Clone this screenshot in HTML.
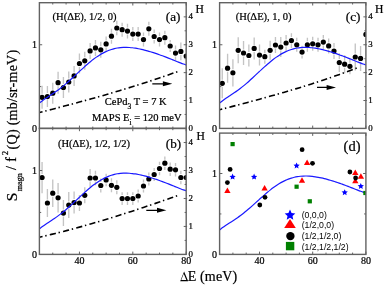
<!DOCTYPE html><html><head><meta charset="utf-8"><style>html,body{margin:0;padding:0;background:#fff;}svg{display:block;will-change:transform;} text{stroke:#000;stroke-width:0.22px;}</style></head><body><svg width="386" height="287" viewBox="0 0 386 287">
<rect width="386" height="287" fill="#fff"/>
<clipPath id="cA"><rect x="39.4" y="2.7" width="146.8" height="125.7"/></clipPath>
<g clip-path="url(#cA)">
<path d="M42.07,85.8V93.8M42.07,100.8V108.8" stroke="#c4c4c4" stroke-width="1.35"/>
<path d="M47.41,86.1V93.1M47.41,100.1V107.1" stroke="#c4c4c4" stroke-width="1.35"/>
<path d="M52.75,82.7V89.7M52.75,96.7V103.7" stroke="#c4c4c4" stroke-width="1.35"/>
<path d="M58.08,71.7V79.2M58.08,86.2V93.7" stroke="#c4c4c4" stroke-width="1.35"/>
<path d="M63.42,77.1V84.1M63.42,91.1V98.1" stroke="#c4c4c4" stroke-width="1.35"/>
<path d="M68.76,71.5V78.5M68.76,85.5V92.5" stroke="#c4c4c4" stroke-width="1.35"/>
<path d="M74.1,65.9V72.4M74.1,79.4V85.9" stroke="#c4c4c4" stroke-width="1.35"/>
<path d="M79.44,53.5V60M79.44,67V73.5" stroke="#c4c4c4" stroke-width="1.35"/>
<path d="M84.77,51.8V57.3M84.77,64.3V69.8" stroke="#c4c4c4" stroke-width="1.35"/>
<path d="M90.11,42.9V47.4M90.11,54.4V58.9" stroke="#c4c4c4" stroke-width="1.35"/>
<path d="M95.45,39.9V44.4M95.45,51.4V55.9" stroke="#c4c4c4" stroke-width="1.35"/>
<path d="M100.79,41.8V46.3M100.79,53.3V57.8" stroke="#c4c4c4" stroke-width="1.35"/>
<path d="M106.13,36.4V40.4M106.13,47.4V51.4" stroke="#c4c4c4" stroke-width="1.35"/>
<path d="M111.47,28.7V32.7M111.47,39.7V43.7" stroke="#c4c4c4" stroke-width="1.35"/>
<path d="M116.8,20.7V24.5M116.8,31.5V35.3" stroke="#c4c4c4" stroke-width="1.35"/>
<path d="M122.14,22.7V26.2M122.14,33.2V36.7" stroke="#c4c4c4" stroke-width="1.35"/>
<path d="M127.48,23.8V27.6M127.48,34.6V38.4" stroke="#c4c4c4" stroke-width="1.35"/>
<path d="M132.82,27.1V30.6M132.82,37.6V41.1" stroke="#c4c4c4" stroke-width="1.35"/>
<path d="M138.16,27.1V30.6M138.16,37.6V41.1" stroke="#c4c4c4" stroke-width="1.35"/>
<path d="M143.49,32.6V36.1M143.49,43.1V46.6" stroke="#c4c4c4" stroke-width="1.35"/>
<path d="M148.83,21.8V25.3M148.83,32.3V35.8" stroke="#c4c4c4" stroke-width="1.35"/>
<path d="M154.17,29.5V33M154.17,40V43.5" stroke="#c4c4c4" stroke-width="1.35"/>
<path d="M159.51,32.6V36.1M159.51,43.1V46.6" stroke="#c4c4c4" stroke-width="1.35"/>
<path d="M164.85,30.7V34.2M164.85,41.2V44.7" stroke="#c4c4c4" stroke-width="1.35"/>
<path d="M170.19,40V42.5M170.19,49.5V52" stroke="#c4c4c4" stroke-width="1.35"/>
<path d="M175.52,45.5V49.6M175.52,56.6V60.7" stroke="#c4c4c4" stroke-width="1.35"/>
<path d="M180.86,42.6V47.9M180.86,54.9V60.2" stroke="#c4c4c4" stroke-width="1.35"/>
<path d="M186.2,48V52.5M186.2,59.5V64" stroke="#c4c4c4" stroke-width="1.35"/>
<circle cx="42.07" cy="97.3" r="2.6" fill="#000"/>
<circle cx="47.41" cy="96.6" r="2.6" fill="#000"/>
<circle cx="52.75" cy="93.2" r="2.6" fill="#000"/>
<circle cx="58.08" cy="82.7" r="2.6" fill="#000"/>
<circle cx="63.42" cy="87.6" r="2.6" fill="#000"/>
<circle cx="68.76" cy="82" r="2.6" fill="#000"/>
<circle cx="74.1" cy="75.9" r="2.6" fill="#000"/>
<circle cx="79.44" cy="63.5" r="2.6" fill="#000"/>
<circle cx="84.77" cy="60.8" r="2.6" fill="#000"/>
<circle cx="90.11" cy="50.9" r="2.6" fill="#000"/>
<circle cx="95.45" cy="47.9" r="2.6" fill="#000"/>
<circle cx="100.79" cy="49.8" r="2.6" fill="#000"/>
<circle cx="106.13" cy="43.9" r="2.6" fill="#000"/>
<circle cx="111.47" cy="36.2" r="2.6" fill="#000"/>
<circle cx="116.8" cy="28" r="2.6" fill="#000"/>
<circle cx="122.14" cy="29.7" r="2.6" fill="#000"/>
<circle cx="127.48" cy="31.1" r="2.6" fill="#000"/>
<circle cx="132.82" cy="34.1" r="2.6" fill="#000"/>
<circle cx="138.16" cy="34.1" r="2.6" fill="#000"/>
<circle cx="143.49" cy="39.6" r="2.6" fill="#000"/>
<circle cx="148.83" cy="28.8" r="2.6" fill="#000"/>
<circle cx="154.17" cy="36.5" r="2.6" fill="#000"/>
<circle cx="159.51" cy="39.6" r="2.6" fill="#000"/>
<circle cx="164.85" cy="37.7" r="2.6" fill="#000"/>
<circle cx="170.19" cy="46" r="2.6" fill="#000"/>
<circle cx="175.52" cy="53.1" r="2.6" fill="#000"/>
<circle cx="180.86" cy="51.4" r="2.6" fill="#000"/>
<circle cx="186.2" cy="56" r="2.6" fill="#000"/>
<path d="M39.4,103.08 C39.9,102.68 41.4,101.41 42.4,100.66 C43.4,99.9 44.4,99.22 45.4,98.54 C46.4,97.85 47.4,97.21 48.4,96.56 C49.4,95.91 50.4,95.27 51.4,94.61 C52.4,93.96 53.4,93.3 54.4,92.61 C55.4,91.93 56.4,91.23 57.4,90.51 C58.4,89.78 59.4,89.03 60.4,88.26 C61.4,87.49 62.4,86.69 63.4,85.87 C64.4,85.05 65.4,84.21 66.4,83.35 C67.4,82.49 68.4,81.6 69.4,80.7 C70.4,79.81 71.4,78.89 72.4,77.97 C73.4,77.05 74.4,76.11 75.4,75.17 C76.4,74.24 77.4,73.3 78.4,72.36 C79.4,71.43 80.4,70.49 81.4,69.57 C82.4,68.65 83.4,67.73 84.4,66.83 C85.4,65.94 86.4,65.05 87.4,64.19 C88.4,63.33 89.4,62.48 90.4,61.67 C91.4,60.86 92.4,60.07 93.4,59.31 C94.4,58.55 95.4,57.82 96.4,57.13 C97.4,56.44 98.4,55.78 99.4,55.15 C100.4,54.53 101.4,53.94 102.4,53.39 C103.4,52.84 104.4,52.33 105.4,51.86 C106.4,51.38 107.4,50.95 108.4,50.55 C109.4,50.16 110.4,49.8 111.4,49.48 C112.4,49.16 113.4,48.88 114.4,48.64 C115.4,48.4 116.4,48.19 117.4,48.02 C118.4,47.84 119.4,47.71 120.4,47.6 C121.4,47.5 122.4,47.43 123.4,47.39 C124.4,47.35 125.4,47.34 126.4,47.36 C127.4,47.37 128.4,47.42 129.4,47.49 C130.4,47.56 131.4,47.65 132.4,47.77 C133.4,47.89 134.4,48.03 135.4,48.18 C136.4,48.34 137.4,48.52 138.4,48.72 C139.4,48.91 140.4,49.12 141.4,49.35 C142.4,49.58 143.4,49.82 144.4,50.07 C145.4,50.33 146.4,50.6 147.4,50.87 C148.4,51.15 149.4,51.44 150.4,51.74 C151.4,52.05 152.4,52.36 153.4,52.68 C154.4,53 155.4,53.33 156.4,53.67 C157.4,54 158.4,54.35 159.4,54.71 C160.4,55.06 161.4,55.43 162.4,55.8 C163.4,56.17 164.4,56.55 165.4,56.93 C166.4,57.32 167.4,57.71 168.4,58.1 C169.4,58.5 170.4,58.9 171.4,59.31 C172.4,59.71 173.4,60.12 174.4,60.52 C175.4,60.93 176.4,61.34 177.4,61.74 C178.4,62.13 179.4,62.53 180.4,62.91 C181.4,63.29 182.43,63.68 183.4,64.01 C184.37,64.35 185.73,64.77 186.2,64.92" fill="none" stroke="#1a1aff" stroke-width="1.2"/>
<path d="M39.4,112.48 L43.4,111.47 L47.4,110.46 L51.4,109.45 L55.4,108.42 L59.4,107.39 L63.4,106.35 L67.4,105.3 L71.4,104.24 L75.4,103.17 L79.4,102.1 L83.4,101.01 L87.4,99.91 L91.4,98.8 L95.4,97.68 L99.4,96.55 L103.4,95.41 L107.4,94.25 L111.4,93.08 L115.4,91.9 L119.4,90.71 L123.4,89.5 L127.4,88.27 L131.4,87.04 L135.4,85.79 L139.4,84.52 L143.4,83.24 L147.4,81.94 L151.4,80.62 L155.4,79.29 L159.4,77.94 L163.4,76.58 L167.4,75.19 L171.4,73.79 L175.4,72.37 L178,71.44" fill="none" stroke="#000" stroke-width="1.6" stroke-dasharray="6.2 2.8 1.4 3.25" stroke-dashoffset="2.97"/>
<line x1="152.3" y1="83.8" x2="163.4" y2="83.8" stroke="#000" stroke-width="1.35"/>
<path d="M172.3,83.8 L162.9,81.3 L162.9,86.3 Z" fill="#000"/>
</g>
<clipPath id="cB"><rect x="39.4" y="128.4" width="146.8" height="126"/></clipPath>
<g clip-path="url(#cB)">
<path d="M42.07,162V174.1M42.07,181.1V193.2" stroke="#c4c4c4" stroke-width="1.35"/>
<path d="M47.41,189V199.5M47.41,206.5V217" stroke="#c4c4c4" stroke-width="1.35"/>
<path d="M52.75,179.4V189.7M52.75,196.7V207" stroke="#c4c4c4" stroke-width="1.35"/>
<path d="M58.08,183V194.3M58.08,201.3V212.6" stroke="#c4c4c4" stroke-width="1.35"/>
<path d="M63.42,200.1V209.6M63.42,216.6V226.1" stroke="#c4c4c4" stroke-width="1.35"/>
<path d="M68.76,192.1V201.6M68.76,208.6V218.1" stroke="#c4c4c4" stroke-width="1.35"/>
<path d="M74.1,191.6V199.1M74.1,206.1V213.6" stroke="#c4c4c4" stroke-width="1.35"/>
<path d="M79.44,195V199.5M79.44,206.5V211" stroke="#c4c4c4" stroke-width="1.35"/>
<path d="M84.77,187.3V191.8M84.77,198.8V203.3" stroke="#c4c4c4" stroke-width="1.35"/>
<path d="M90.11,169V174.5M90.11,181.5V187" stroke="#c4c4c4" stroke-width="1.35"/>
<path d="M95.45,170.7V174.5M95.45,181.5V185.3" stroke="#c4c4c4" stroke-width="1.35"/>
<path d="M100.79,178.5V182M100.79,189V192.5" stroke="#c4c4c4" stroke-width="1.35"/>
<path d="M106.13,173.7V176.5M106.13,183.5V186.3" stroke="#c4c4c4" stroke-width="1.35"/>
<path d="M111.47,178.3V181.8M111.47,188.8V192.3" stroke="#c4c4c4" stroke-width="1.35"/>
<path d="M116.8,180.3V183.8M116.8,190.8V194.3" stroke="#c4c4c4" stroke-width="1.35"/>
<path d="M122.14,192.3V195.1M122.14,202.1V204.9" stroke="#c4c4c4" stroke-width="1.35"/>
<path d="M127.48,192.3V195.1M127.48,202.1V204.9" stroke="#c4c4c4" stroke-width="1.35"/>
<path d="M132.82,192.3V195.1M132.82,202.1V204.9" stroke="#c4c4c4" stroke-width="1.35"/>
<path d="M138.16,189.5V192.5M138.16,199.5V202.5" stroke="#c4c4c4" stroke-width="1.35"/>
<path d="M143.49,179.5V182.5M143.49,189.5V192.5" stroke="#c4c4c4" stroke-width="1.35"/>
<path d="M148.83,172.5V175.5M148.83,182.5V185.5" stroke="#c4c4c4" stroke-width="1.35"/>
<path d="M154.17,168V171M154.17,178V181" stroke="#c4c4c4" stroke-width="1.35"/>
<path d="M159.51,161.7V165M159.51,172V175.3" stroke="#c4c4c4" stroke-width="1.35"/>
<path d="M164.85,156.4V159.7M164.85,166.7V170" stroke="#c4c4c4" stroke-width="1.35"/>
<path d="M170.19,162.4V165.7M170.19,172.7V176" stroke="#c4c4c4" stroke-width="1.35"/>
<path d="M175.52,163V166.3M175.52,173.3V176.6" stroke="#c4c4c4" stroke-width="1.35"/>
<path d="M180.86,170.7V174M180.86,181V184.3" stroke="#c4c4c4" stroke-width="1.35"/>
<path d="M186.2,170.7V174M186.2,181V184.3" stroke="#c4c4c4" stroke-width="1.35"/>
<circle cx="42.07" cy="177.6" r="2.6" fill="#000"/>
<circle cx="47.41" cy="203" r="2.6" fill="#000"/>
<circle cx="52.75" cy="193.2" r="2.6" fill="#000"/>
<circle cx="58.08" cy="197.8" r="2.6" fill="#000"/>
<circle cx="63.42" cy="213.1" r="2.6" fill="#000"/>
<circle cx="68.76" cy="205.1" r="2.6" fill="#000"/>
<circle cx="74.1" cy="202.6" r="2.6" fill="#000"/>
<circle cx="79.44" cy="203" r="2.6" fill="#000"/>
<circle cx="84.77" cy="195.3" r="2.6" fill="#000"/>
<circle cx="90.11" cy="178" r="2.6" fill="#000"/>
<circle cx="95.45" cy="178" r="2.6" fill="#000"/>
<circle cx="100.79" cy="185.5" r="2.6" fill="#000"/>
<circle cx="106.13" cy="180" r="2.6" fill="#000"/>
<circle cx="111.47" cy="185.3" r="2.6" fill="#000"/>
<circle cx="116.8" cy="187.3" r="2.6" fill="#000"/>
<circle cx="122.14" cy="198.6" r="2.6" fill="#000"/>
<circle cx="127.48" cy="198.6" r="2.6" fill="#000"/>
<circle cx="132.82" cy="198.6" r="2.6" fill="#000"/>
<circle cx="138.16" cy="196" r="2.6" fill="#000"/>
<circle cx="143.49" cy="186" r="2.6" fill="#000"/>
<circle cx="148.83" cy="179" r="2.6" fill="#000"/>
<circle cx="154.17" cy="174.5" r="2.6" fill="#000"/>
<circle cx="159.51" cy="168.5" r="2.6" fill="#000"/>
<circle cx="164.85" cy="163.2" r="2.6" fill="#000"/>
<circle cx="170.19" cy="169.2" r="2.6" fill="#000"/>
<circle cx="175.52" cy="169.8" r="2.6" fill="#000"/>
<circle cx="180.86" cy="177.5" r="2.6" fill="#000"/>
<circle cx="186.2" cy="177.5" r="2.6" fill="#000"/>
<path d="M39.4,229.01 C39.9,228.6 41.4,227.33 42.4,226.57 C43.4,225.81 44.4,225.13 45.4,224.45 C46.4,223.76 47.4,223.12 48.4,222.47 C49.4,221.81 50.4,221.17 51.4,220.51 C52.4,219.85 53.4,219.19 54.4,218.51 C55.4,217.82 56.4,217.12 57.4,216.39 C58.4,215.66 59.4,214.92 60.4,214.14 C61.4,213.37 62.4,212.57 63.4,211.75 C64.4,210.92 65.4,210.08 66.4,209.21 C67.4,208.35 68.4,207.46 69.4,206.56 C70.4,205.66 71.4,204.74 72.4,203.82 C73.4,202.89 74.4,201.95 75.4,201.02 C76.4,200.08 77.4,199.13 78.4,198.2 C79.4,197.26 80.4,196.32 81.4,195.39 C82.4,194.47 83.4,193.55 84.4,192.65 C85.4,191.75 86.4,190.86 87.4,190 C88.4,189.13 89.4,188.29 90.4,187.47 C91.4,186.66 92.4,185.86 93.4,185.1 C94.4,184.35 95.4,183.61 96.4,182.92 C97.4,182.22 98.4,181.56 99.4,180.93 C100.4,180.31 101.4,179.72 102.4,179.17 C103.4,178.62 104.4,178.1 105.4,177.63 C106.4,177.15 107.4,176.72 108.4,176.32 C109.4,175.92 110.4,175.57 111.4,175.25 C112.4,174.93 113.4,174.65 114.4,174.4 C115.4,174.16 116.4,173.95 117.4,173.78 C118.4,173.6 119.4,173.47 120.4,173.36 C121.4,173.26 122.4,173.19 123.4,173.15 C124.4,173.11 125.4,173.1 126.4,173.11 C127.4,173.13 128.4,173.18 129.4,173.25 C130.4,173.32 131.4,173.41 132.4,173.53 C133.4,173.65 134.4,173.79 135.4,173.94 C136.4,174.1 137.4,174.28 138.4,174.48 C139.4,174.67 140.4,174.89 141.4,175.11 C142.4,175.34 143.4,175.58 144.4,175.84 C145.4,176.09 146.4,176.36 147.4,176.64 C148.4,176.92 149.4,177.21 150.4,177.52 C151.4,177.82 152.4,178.13 153.4,178.45 C154.4,178.77 155.4,179.1 156.4,179.44 C157.4,179.78 158.4,180.13 159.4,180.49 C160.4,180.84 161.4,181.21 162.4,181.58 C163.4,181.95 164.4,182.33 165.4,182.72 C166.4,183.1 167.4,183.5 168.4,183.89 C169.4,184.29 170.4,184.69 171.4,185.1 C172.4,185.5 173.4,185.91 174.4,186.32 C175.4,186.73 176.4,187.14 177.4,187.54 C178.4,187.94 179.4,188.34 180.4,188.72 C181.4,189.1 182.43,189.49 183.4,189.82 C184.37,190.16 185.73,190.58 186.2,190.73" fill="none" stroke="#1a1aff" stroke-width="1.2"/>
<path d="M39.4,237.2 L43.4,236.29 L47.4,235.35 L51.4,234.4 L55.4,233.42 L59.4,232.42 L63.4,231.41 L67.4,230.37 L71.4,229.31 L75.4,228.24 L79.4,227.14 L83.4,226.03 L87.4,224.9 L91.4,223.75 L95.4,222.59 L99.4,221.4 L103.4,220.21 L107.4,218.99 L111.4,217.76 L115.4,216.52 L119.4,215.26 L123.4,213.99 L127.4,212.71 L131.4,211.41 L135.4,210.1 L139.4,208.77 L143.4,207.44 L147.4,206.09 L151.4,204.74 L155.4,203.37 L159.4,201.99 L163.4,200.6 L167.4,199.21 L171.4,197.8 L175.4,196.39 L178,195.47" fill="none" stroke="#000" stroke-width="1.6" stroke-dasharray="6.2 2.8 1.4 3.25" stroke-dashoffset="2.97"/>
<line x1="146.3" y1="210.3" x2="157.5" y2="210.3" stroke="#000" stroke-width="1.35"/>
<path d="M166.4,210.3 L157,207.8 L157,212.8 Z" fill="#000"/>
</g>
<clipPath id="cC"><rect x="219.6" y="2.7" width="146.3" height="125.7"/></clipPath>
<g clip-path="url(#cC)">
<path d="M222.26,68.3V79.8M222.26,86.8V98.3" stroke="#c4c4c4" stroke-width="1.35"/>
<path d="M227.58,53.7V64.7M227.58,71.7V82.7" stroke="#c4c4c4" stroke-width="1.35"/>
<path d="M232.9,59.2V69.3M232.9,76.3V86.4" stroke="#c4c4c4" stroke-width="1.35"/>
<path d="M238.22,37.3V46.8M238.22,53.8V63.3" stroke="#c4c4c4" stroke-width="1.35"/>
<path d="M243.54,41V49.5M243.54,56.5V65" stroke="#c4c4c4" stroke-width="1.35"/>
<path d="M248.86,44.5V52M248.86,59V66.5" stroke="#c4c4c4" stroke-width="1.35"/>
<path d="M254.18,37.4V44.9M254.18,51.9V59.4" stroke="#c4c4c4" stroke-width="1.35"/>
<path d="M259.5,44.6V51.6M259.5,58.6V65.6" stroke="#c4c4c4" stroke-width="1.35"/>
<path d="M264.82,49.7V53.2M264.82,60.2V63.7" stroke="#c4c4c4" stroke-width="1.35"/>
<path d="M270.14,40.8V46.8M270.14,53.8V59.8" stroke="#c4c4c4" stroke-width="1.35"/>
<path d="M275.46,37V41.5M275.46,48.5V53" stroke="#c4c4c4" stroke-width="1.35"/>
<path d="M280.78,37.1V43.6M280.78,50.6V57.1" stroke="#c4c4c4" stroke-width="1.35"/>
<path d="M286.1,35V39.5M286.1,46.5V51" stroke="#c4c4c4" stroke-width="1.35"/>
<path d="M291.42,33.3V37.1M291.42,44.1V47.9" stroke="#c4c4c4" stroke-width="1.35"/>
<path d="M296.74,37.8V41.3M296.74,48.3V51.8" stroke="#c4c4c4" stroke-width="1.35"/>
<path d="M302.06,45.8V48.6M302.06,55.6V58.4" stroke="#c4c4c4" stroke-width="1.35"/>
<path d="M307.38,37.8V41.3M307.38,48.3V51.8" stroke="#c4c4c4" stroke-width="1.35"/>
<path d="M312.7,36.8V40.3M312.7,47.3V50.8" stroke="#c4c4c4" stroke-width="1.35"/>
<path d="M318.02,37.8V41.3M318.02,48.3V51.8" stroke="#c4c4c4" stroke-width="1.35"/>
<path d="M323.34,35.1V38.6M323.34,45.6V49.1" stroke="#c4c4c4" stroke-width="1.35"/>
<path d="M328.66,38.4V42.4M328.66,49.4V53.4" stroke="#c4c4c4" stroke-width="1.35"/>
<path d="M333.98,43.1V47.6M333.98,54.6V59.1" stroke="#c4c4c4" stroke-width="1.35"/>
<path d="M339.3,53.2V59.1M339.3,66.1V72" stroke="#c4c4c4" stroke-width="1.35"/>
<path d="M344.62,55.2V60.7M344.62,67.7V73.2" stroke="#c4c4c4" stroke-width="1.35"/>
<path d="M349.94,58.3V62.8M349.94,69.8V74.3" stroke="#c4c4c4" stroke-width="1.35"/>
<path d="M355.26,43.5V53.5M355.26,60.5V70.5" stroke="#c4c4c4" stroke-width="1.35"/>
<path d="M360.58,45.9V54.9M360.58,61.9V70.9" stroke="#c4c4c4" stroke-width="1.35"/>
<path d="M365.9,22.4V30.9M365.9,37.9V46.4" stroke="#c4c4c4" stroke-width="1.35"/>
<circle cx="222.26" cy="83.3" r="2.6" fill="#000"/>
<circle cx="227.58" cy="68.2" r="2.6" fill="#000"/>
<circle cx="232.9" cy="72.8" r="2.6" fill="#000"/>
<circle cx="238.22" cy="50.3" r="2.6" fill="#000"/>
<circle cx="243.54" cy="53" r="2.6" fill="#000"/>
<circle cx="248.86" cy="55.5" r="2.6" fill="#000"/>
<circle cx="254.18" cy="48.4" r="2.6" fill="#000"/>
<circle cx="259.5" cy="55.1" r="2.6" fill="#000"/>
<circle cx="264.82" cy="56.7" r="2.6" fill="#000"/>
<circle cx="270.14" cy="50.3" r="2.6" fill="#000"/>
<circle cx="275.46" cy="45" r="2.6" fill="#000"/>
<circle cx="280.78" cy="47.1" r="2.6" fill="#000"/>
<circle cx="286.1" cy="43" r="2.6" fill="#000"/>
<circle cx="291.42" cy="40.6" r="2.6" fill="#000"/>
<circle cx="296.74" cy="44.8" r="2.6" fill="#000"/>
<circle cx="302.06" cy="52.1" r="2.6" fill="#000"/>
<circle cx="307.38" cy="44.8" r="2.6" fill="#000"/>
<circle cx="312.7" cy="43.8" r="2.6" fill="#000"/>
<circle cx="318.02" cy="44.8" r="2.6" fill="#000"/>
<circle cx="323.34" cy="42.1" r="2.6" fill="#000"/>
<circle cx="328.66" cy="45.9" r="2.6" fill="#000"/>
<circle cx="333.98" cy="51.1" r="2.6" fill="#000"/>
<circle cx="339.3" cy="62.6" r="2.6" fill="#000"/>
<circle cx="344.62" cy="64.2" r="2.6" fill="#000"/>
<circle cx="349.94" cy="66.3" r="2.6" fill="#000"/>
<circle cx="355.26" cy="57" r="2.6" fill="#000"/>
<circle cx="360.58" cy="58.4" r="2.6" fill="#000"/>
<circle cx="365.9" cy="34.4" r="2.6" fill="#000"/>
<path d="M219.6,103.08 C220.1,102.68 221.59,101.41 222.59,100.66 C223.59,99.9 224.58,99.22 225.58,98.54 C226.58,97.85 227.57,97.21 228.57,96.56 C229.57,95.91 230.56,95.27 231.56,94.61 C232.56,93.96 233.55,93.3 234.55,92.61 C235.55,91.93 236.54,91.23 237.54,90.51 C238.54,89.78 239.53,89.03 240.53,88.26 C241.53,87.49 242.52,86.69 243.52,85.87 C244.51,85.05 245.51,84.21 246.51,83.35 C247.5,82.49 248.5,81.6 249.5,80.7 C250.49,79.81 251.49,78.89 252.49,77.97 C253.48,77.05 254.48,76.11 255.48,75.17 C256.47,74.24 257.47,73.3 258.47,72.36 C259.46,71.43 260.46,70.49 261.46,69.57 C262.45,68.65 263.45,67.73 264.45,66.83 C265.44,65.94 266.44,65.05 267.44,64.19 C268.43,63.33 269.43,62.48 270.43,61.67 C271.42,60.86 272.42,60.07 273.42,59.31 C274.41,58.55 275.41,57.82 276.41,57.13 C277.4,56.44 278.4,55.78 279.4,55.15 C280.39,54.53 281.39,53.94 282.39,53.39 C283.38,52.84 284.38,52.33 285.38,51.86 C286.37,51.38 287.37,50.95 288.36,50.55 C289.36,50.16 290.36,49.8 291.35,49.48 C292.35,49.16 293.35,48.88 294.34,48.64 C295.34,48.4 296.34,48.19 297.33,48.02 C298.33,47.84 299.33,47.71 300.32,47.6 C301.32,47.5 302.32,47.43 303.31,47.39 C304.31,47.35 305.31,47.34 306.3,47.36 C307.3,47.37 308.3,47.42 309.29,47.49 C310.29,47.56 311.29,47.65 312.28,47.77 C313.28,47.89 314.28,48.03 315.27,48.18 C316.27,48.34 317.27,48.52 318.26,48.72 C319.26,48.91 320.26,49.12 321.25,49.35 C322.25,49.58 323.25,49.82 324.24,50.07 C325.24,50.33 326.24,50.6 327.23,50.87 C328.23,51.15 329.23,51.44 330.22,51.74 C331.22,52.05 332.22,52.36 333.21,52.68 C334.21,53 335.2,53.33 336.2,53.67 C337.2,54 338.19,54.35 339.19,54.71 C340.19,55.06 341.18,55.43 342.18,55.8 C343.18,56.17 344.17,56.55 345.17,56.93 C346.17,57.32 347.16,57.71 348.16,58.1 C349.16,58.5 350.15,58.9 351.15,59.31 C352.15,59.71 353.14,60.12 354.14,60.52 C355.14,60.93 356.13,61.34 357.13,61.74 C358.13,62.13 359.12,62.53 360.12,62.91 C361.12,63.29 362.15,63.68 363.11,64.01 C364.07,64.35 365.43,64.77 365.9,64.92" fill="none" stroke="#1a1aff" stroke-width="1.2"/>
<path d="M219.6,109.77 L223.6,108.72 L227.6,107.68 L231.6,106.63 L235.6,105.58 L239.6,104.53 L243.6,103.47 L247.6,102.41 L251.6,101.33 L255.6,100.25 L259.6,99.17 L263.6,98.07 L267.6,96.96 L271.6,95.84 L275.6,94.71 L279.6,93.57 L283.6,92.42 L287.6,91.25 L291.6,90.06 L295.6,88.86 L299.6,87.65 L303.6,86.42 L307.6,85.16 L311.6,83.89 L315.6,82.6 L319.6,81.29 L323.6,79.96 L327.6,78.6 L331.6,77.23 L335.6,75.82 L339.6,74.4 L343.6,72.95 L347.6,71.47 L351.6,69.96 L355.6,68.43 L358,67.5" fill="none" stroke="#000" stroke-width="1.6" stroke-dasharray="6.2 2.8 1.4 3.25" stroke-dashoffset="3.49"/>
<line x1="317" y1="87.4" x2="327.1" y2="87.4" stroke="#000" stroke-width="1.35"/>
<path d="M336,87.4 L326.6,84.9 L326.6,89.9 Z" fill="#000"/>
</g>
<clipPath id="cD"><rect x="219.6" y="133.1" width="146.3" height="121.3"/></clipPath>
<g clip-path="url(#cD)">
<path d="M219.6,229.91 C220.1,229.52 221.59,228.3 222.59,227.57 C223.59,226.84 224.58,226.18 225.58,225.52 C226.58,224.86 227.57,224.24 228.57,223.61 C229.57,222.98 230.56,222.36 231.56,221.72 C232.56,221.09 233.55,220.45 234.55,219.79 C235.55,219.13 236.54,218.45 237.54,217.75 C238.54,217.05 239.53,216.33 240.53,215.58 C241.53,214.83 242.52,214.06 243.52,213.27 C244.51,212.48 245.51,211.66 246.51,210.83 C247.5,209.99 248.5,209.14 249.5,208.27 C250.49,207.4 251.49,206.52 252.49,205.63 C253.48,204.73 254.48,203.83 255.48,202.92 C256.47,202.02 257.47,201.11 258.47,200.2 C259.46,199.3 260.46,198.39 261.46,197.5 C262.45,196.61 263.45,195.72 264.45,194.86 C265.44,193.99 266.44,193.13 267.44,192.3 C268.43,191.47 269.43,190.65 270.43,189.87 C271.42,189.08 272.42,188.31 273.42,187.58 C274.41,186.85 275.41,186.14 276.41,185.47 C277.4,184.8 278.4,184.16 279.4,183.56 C280.39,182.96 281.39,182.39 282.39,181.86 C283.38,181.33 284.38,180.83 285.38,180.37 C286.37,179.92 287.37,179.5 288.36,179.11 C289.36,178.73 290.36,178.39 291.35,178.08 C292.35,177.77 293.35,177.5 294.34,177.26 C295.34,177.03 296.34,176.83 297.33,176.66 C298.33,176.49 299.33,176.36 300.32,176.26 C301.32,176.16 302.32,176.09 303.31,176.05 C304.31,176.01 305.31,176 306.3,176.02 C307.3,176.04 308.3,176.08 309.29,176.15 C310.29,176.22 311.29,176.31 312.28,176.42 C313.28,176.53 314.28,176.67 315.27,176.82 C316.27,176.97 317.27,177.15 318.26,177.34 C319.26,177.52 320.26,177.73 321.25,177.95 C322.25,178.17 323.25,178.4 324.24,178.65 C325.24,178.89 326.24,179.15 327.23,179.42 C328.23,179.69 329.23,179.97 330.22,180.26 C331.22,180.56 332.22,180.86 333.21,181.17 C334.21,181.48 335.2,181.8 336.2,182.12 C337.2,182.45 338.19,182.79 339.19,183.13 C340.19,183.47 341.18,183.83 342.18,184.18 C343.18,184.54 344.17,184.91 345.17,185.28 C346.17,185.65 347.16,186.03 348.16,186.41 C349.16,186.8 350.15,187.19 351.15,187.58 C352.15,187.97 353.14,188.36 354.14,188.75 C355.14,189.15 356.13,189.54 357.13,189.93 C358.13,190.31 359.12,190.7 360.12,191.07 C361.12,191.43 362.15,191.81 363.11,192.13 C364.07,192.45 365.43,192.86 365.9,193" fill="none" stroke="#1a1aff" stroke-width="1.2"/>
<rect x="230.5" y="142" width="4.2" height="4.2" fill="#008000"/>
<rect x="294.5" y="184.6" width="4.2" height="4.2" fill="#008000"/>
<rect x="307.7" y="199.2" width="4.2" height="4.2" fill="#008000"/>
<rect x="363.3" y="190.9" width="4.2" height="4.2" fill="#008000"/>
<polygon points="227.4,187.4 230.55,192.9 224.25,192.9" fill="#ff0000"/>
<polygon points="264.6,185.1 267.75,190.6 261.45,190.6" fill="#ff0000"/>
<polygon points="302,177.3 305.15,182.8 298.85,182.8" fill="#ff0000"/>
<polygon points="307.1,159.6 310.25,165.1 303.95,165.1" fill="#ff0000"/>
<polygon points="355.3,169.4 358.45,174.9 352.15,174.9" fill="#ff0000"/>
<polygon points="360.9,173.3 364.05,178.8 357.75,178.8" fill="#ff0000"/>
<polygon points="355.3,177.8 358.45,183.3 352.15,183.3" fill="#ff0000"/>
<circle cx="230.1" cy="169.4" r="2.4" fill="#000"/>
<circle cx="227.4" cy="182.6" r="2.4" fill="#000"/>
<circle cx="265" cy="197.3" r="2.4" fill="#000"/>
<circle cx="259.8" cy="205" r="2.4" fill="#000"/>
<circle cx="302.1" cy="149.7" r="2.4" fill="#000"/>
<circle cx="312.5" cy="163.3" r="2.4" fill="#000"/>
<circle cx="349.9" cy="172" r="2.4" fill="#000"/>
<circle cx="355.6" cy="178" r="2.4" fill="#000"/>
<polygon points="232.6,173.6 233.51,175.65 235.74,175.88 234.08,177.38 234.54,179.57 232.6,178.45 230.66,179.57 231.12,177.38 229.46,175.88 231.69,175.65" fill="#0000ff"/>
<polygon points="254.1,173.6 255.01,175.65 257.24,175.88 255.58,177.38 256.04,179.57 254.1,178.45 252.16,179.57 252.62,177.38 250.96,175.88 253.19,175.65" fill="#0000ff"/>
<polygon points="296.6,162.5 297.51,164.55 299.74,164.78 298.08,166.28 298.54,168.47 296.6,167.35 294.66,168.47 295.12,166.28 293.46,164.78 295.69,164.55" fill="#0000ff"/>
<polygon points="344.7,189.2 345.61,191.25 347.84,191.48 346.18,192.98 346.64,195.17 344.7,194.05 342.76,195.17 343.22,192.98 341.56,191.48 343.79,191.25" fill="#0000ff"/>
<polygon points="360.8,183 361.71,185.05 363.94,185.28 362.28,186.78 362.74,188.97 360.8,187.85 358.86,188.97 359.32,186.78 357.66,185.28 359.89,185.05" fill="#0000ff"/>
</g>
<polygon points="290,209.6 291.55,213.07 295.33,213.47 292.5,216.01 293.29,219.73 290,217.83 286.71,219.73 287.5,216.01 284.67,213.47 288.45,213.07" fill="#0000ff"/>
<polygon points="290,219.1 295.8,228.1 284.2,228.1" fill="#ff0000"/>
<circle cx="290.4" cy="236.1" r="4.2" fill="#000"/>
<rect x="285.9" y="241.9" width="8.4" height="8.4" fill="#008000"/>
<text x="301.7" y="218.3" font-family='"Liberation Sans", sans-serif' font-size="8.7" text-anchor="start" style="stroke-width:0">(0,0,0)</text>
<text x="301.7" y="227.7" font-family='"Liberation Sans", sans-serif' font-size="8.7" text-anchor="start" style="stroke-width:0">(1/2,0,0)</text>
<text x="301.7" y="239.2" font-family='"Liberation Sans", sans-serif' font-size="8.7" text-anchor="start" style="stroke-width:0">(1/2,1/2,0)</text>
<text x="301.7" y="249.6" font-family='"Liberation Sans", sans-serif' font-size="8.7" text-anchor="start" style="stroke-width:0">(1/2,1/2,1/2)</text>
<rect x="39.4" y="2.7" width="146.8" height="125.7" fill="none" stroke="#626262" stroke-width="1.4"/>
<line x1="52.75" y1="128.4" x2="52.75" y2="126.6" stroke="#626262" stroke-width="1"/>
<line x1="52.75" y1="2.7" x2="52.75" y2="4.5" stroke="#626262" stroke-width="1"/>
<line x1="66.09" y1="128.4" x2="66.09" y2="126.6" stroke="#626262" stroke-width="1"/>
<line x1="66.09" y1="2.7" x2="66.09" y2="4.5" stroke="#626262" stroke-width="1"/>
<line x1="79.44" y1="128.4" x2="79.44" y2="125.6" stroke="#626262" stroke-width="1"/>
<line x1="79.44" y1="2.7" x2="79.44" y2="5.5" stroke="#626262" stroke-width="1"/>
<line x1="92.78" y1="128.4" x2="92.78" y2="126.6" stroke="#626262" stroke-width="1"/>
<line x1="92.78" y1="2.7" x2="92.78" y2="4.5" stroke="#626262" stroke-width="1"/>
<line x1="106.13" y1="128.4" x2="106.13" y2="126.6" stroke="#626262" stroke-width="1"/>
<line x1="106.13" y1="2.7" x2="106.13" y2="4.5" stroke="#626262" stroke-width="1"/>
<line x1="119.47" y1="128.4" x2="119.47" y2="126.6" stroke="#626262" stroke-width="1"/>
<line x1="119.47" y1="2.7" x2="119.47" y2="4.5" stroke="#626262" stroke-width="1"/>
<line x1="132.82" y1="128.4" x2="132.82" y2="125.6" stroke="#626262" stroke-width="1"/>
<line x1="132.82" y1="2.7" x2="132.82" y2="5.5" stroke="#626262" stroke-width="1"/>
<line x1="146.16" y1="128.4" x2="146.16" y2="126.6" stroke="#626262" stroke-width="1"/>
<line x1="146.16" y1="2.7" x2="146.16" y2="4.5" stroke="#626262" stroke-width="1"/>
<line x1="159.51" y1="128.4" x2="159.51" y2="126.6" stroke="#626262" stroke-width="1"/>
<line x1="159.51" y1="2.7" x2="159.51" y2="4.5" stroke="#626262" stroke-width="1"/>
<line x1="172.85" y1="128.4" x2="172.85" y2="126.6" stroke="#626262" stroke-width="1"/>
<line x1="172.85" y1="2.7" x2="172.85" y2="4.5" stroke="#626262" stroke-width="1"/>
<line x1="186.2" y1="128.4" x2="186.2" y2="125.6" stroke="#626262" stroke-width="1"/>
<line x1="186.2" y1="2.7" x2="186.2" y2="5.5" stroke="#626262" stroke-width="1"/>
<line x1="39.4" y1="86.58" x2="41.2" y2="86.58" stroke="#626262" stroke-width="1"/>
<line x1="39.4" y1="44.75" x2="42.2" y2="44.75" stroke="#626262" stroke-width="1"/>
<line x1="186.2" y1="114.46" x2="184.6" y2="114.46" stroke="#626262" stroke-width="1"/>
<line x1="187.1" y1="100.52" x2="183.7" y2="100.52" stroke="#626262" stroke-width="1"/>
<line x1="186.2" y1="86.58" x2="184.6" y2="86.58" stroke="#626262" stroke-width="1"/>
<line x1="187.1" y1="72.63" x2="183.7" y2="72.63" stroke="#626262" stroke-width="1"/>
<line x1="186.2" y1="58.69" x2="184.6" y2="58.69" stroke="#626262" stroke-width="1"/>
<line x1="187.1" y1="44.75" x2="183.7" y2="44.75" stroke="#626262" stroke-width="1"/>
<line x1="186.2" y1="30.81" x2="184.6" y2="30.81" stroke="#626262" stroke-width="1"/>
<line x1="187.1" y1="16.87" x2="183.7" y2="16.87" stroke="#626262" stroke-width="1"/>
<rect x="39.4" y="128.4" width="146.8" height="126" fill="none" stroke="#626262" stroke-width="1.4"/>
<line x1="52.75" y1="254.4" x2="52.75" y2="252.6" stroke="#626262" stroke-width="1"/>
<line x1="52.75" y1="128.4" x2="52.75" y2="130.2" stroke="#626262" stroke-width="1"/>
<line x1="66.09" y1="254.4" x2="66.09" y2="252.6" stroke="#626262" stroke-width="1"/>
<line x1="66.09" y1="128.4" x2="66.09" y2="130.2" stroke="#626262" stroke-width="1"/>
<line x1="79.44" y1="254.4" x2="79.44" y2="251.6" stroke="#626262" stroke-width="1"/>
<line x1="79.44" y1="128.4" x2="79.44" y2="131.2" stroke="#626262" stroke-width="1"/>
<line x1="92.78" y1="254.4" x2="92.78" y2="252.6" stroke="#626262" stroke-width="1"/>
<line x1="92.78" y1="128.4" x2="92.78" y2="130.2" stroke="#626262" stroke-width="1"/>
<line x1="106.13" y1="254.4" x2="106.13" y2="252.6" stroke="#626262" stroke-width="1"/>
<line x1="106.13" y1="128.4" x2="106.13" y2="130.2" stroke="#626262" stroke-width="1"/>
<line x1="119.47" y1="254.4" x2="119.47" y2="252.6" stroke="#626262" stroke-width="1"/>
<line x1="119.47" y1="128.4" x2="119.47" y2="130.2" stroke="#626262" stroke-width="1"/>
<line x1="132.82" y1="254.4" x2="132.82" y2="251.6" stroke="#626262" stroke-width="1"/>
<line x1="132.82" y1="128.4" x2="132.82" y2="131.2" stroke="#626262" stroke-width="1"/>
<line x1="146.16" y1="254.4" x2="146.16" y2="252.6" stroke="#626262" stroke-width="1"/>
<line x1="146.16" y1="128.4" x2="146.16" y2="130.2" stroke="#626262" stroke-width="1"/>
<line x1="159.51" y1="254.4" x2="159.51" y2="252.6" stroke="#626262" stroke-width="1"/>
<line x1="159.51" y1="128.4" x2="159.51" y2="130.2" stroke="#626262" stroke-width="1"/>
<line x1="172.85" y1="254.4" x2="172.85" y2="252.6" stroke="#626262" stroke-width="1"/>
<line x1="172.85" y1="128.4" x2="172.85" y2="130.2" stroke="#626262" stroke-width="1"/>
<line x1="186.2" y1="254.4" x2="186.2" y2="251.6" stroke="#626262" stroke-width="1"/>
<line x1="186.2" y1="128.4" x2="186.2" y2="131.2" stroke="#626262" stroke-width="1"/>
<line x1="39.4" y1="212.45" x2="41.2" y2="212.45" stroke="#626262" stroke-width="1"/>
<line x1="39.4" y1="170.5" x2="42.2" y2="170.5" stroke="#626262" stroke-width="1"/>
<line x1="186.2" y1="240.42" x2="184.6" y2="240.42" stroke="#626262" stroke-width="1"/>
<line x1="187.1" y1="226.43" x2="183.7" y2="226.43" stroke="#626262" stroke-width="1"/>
<line x1="186.2" y1="212.45" x2="184.6" y2="212.45" stroke="#626262" stroke-width="1"/>
<line x1="187.1" y1="198.47" x2="183.7" y2="198.47" stroke="#626262" stroke-width="1"/>
<line x1="186.2" y1="184.48" x2="184.6" y2="184.48" stroke="#626262" stroke-width="1"/>
<line x1="187.1" y1="170.5" x2="183.7" y2="170.5" stroke="#626262" stroke-width="1"/>
<line x1="186.2" y1="156.52" x2="184.6" y2="156.52" stroke="#626262" stroke-width="1"/>
<line x1="187.1" y1="142.53" x2="183.7" y2="142.53" stroke="#626262" stroke-width="1"/>
<rect x="219.6" y="2.7" width="146.3" height="125.7" fill="none" stroke="#626262" stroke-width="1.4"/>
<line x1="232.9" y1="128.4" x2="232.9" y2="126.6" stroke="#626262" stroke-width="1"/>
<line x1="232.9" y1="2.7" x2="232.9" y2="4.5" stroke="#626262" stroke-width="1"/>
<line x1="246.2" y1="128.4" x2="246.2" y2="126.6" stroke="#626262" stroke-width="1"/>
<line x1="246.2" y1="2.7" x2="246.2" y2="4.5" stroke="#626262" stroke-width="1"/>
<line x1="259.5" y1="128.4" x2="259.5" y2="125.6" stroke="#626262" stroke-width="1"/>
<line x1="259.5" y1="2.7" x2="259.5" y2="5.5" stroke="#626262" stroke-width="1"/>
<line x1="272.8" y1="128.4" x2="272.8" y2="126.6" stroke="#626262" stroke-width="1"/>
<line x1="272.8" y1="2.7" x2="272.8" y2="4.5" stroke="#626262" stroke-width="1"/>
<line x1="286.1" y1="128.4" x2="286.1" y2="126.6" stroke="#626262" stroke-width="1"/>
<line x1="286.1" y1="2.7" x2="286.1" y2="4.5" stroke="#626262" stroke-width="1"/>
<line x1="299.4" y1="128.4" x2="299.4" y2="126.6" stroke="#626262" stroke-width="1"/>
<line x1="299.4" y1="2.7" x2="299.4" y2="4.5" stroke="#626262" stroke-width="1"/>
<line x1="312.7" y1="128.4" x2="312.7" y2="125.6" stroke="#626262" stroke-width="1"/>
<line x1="312.7" y1="2.7" x2="312.7" y2="5.5" stroke="#626262" stroke-width="1"/>
<line x1="326" y1="128.4" x2="326" y2="126.6" stroke="#626262" stroke-width="1"/>
<line x1="326" y1="2.7" x2="326" y2="4.5" stroke="#626262" stroke-width="1"/>
<line x1="339.3" y1="128.4" x2="339.3" y2="126.6" stroke="#626262" stroke-width="1"/>
<line x1="339.3" y1="2.7" x2="339.3" y2="4.5" stroke="#626262" stroke-width="1"/>
<line x1="352.6" y1="128.4" x2="352.6" y2="126.6" stroke="#626262" stroke-width="1"/>
<line x1="352.6" y1="2.7" x2="352.6" y2="4.5" stroke="#626262" stroke-width="1"/>
<line x1="365.9" y1="128.4" x2="365.9" y2="125.6" stroke="#626262" stroke-width="1"/>
<line x1="365.9" y1="2.7" x2="365.9" y2="5.5" stroke="#626262" stroke-width="1"/>
<line x1="219.6" y1="86.58" x2="221.4" y2="86.58" stroke="#626262" stroke-width="1"/>
<line x1="219.6" y1="44.75" x2="222.4" y2="44.75" stroke="#626262" stroke-width="1"/>
<line x1="365.9" y1="114.46" x2="364.3" y2="114.46" stroke="#626262" stroke-width="1"/>
<line x1="366.8" y1="100.52" x2="363.4" y2="100.52" stroke="#626262" stroke-width="1"/>
<line x1="365.9" y1="86.58" x2="364.3" y2="86.58" stroke="#626262" stroke-width="1"/>
<line x1="366.8" y1="72.63" x2="363.4" y2="72.63" stroke="#626262" stroke-width="1"/>
<line x1="365.9" y1="58.69" x2="364.3" y2="58.69" stroke="#626262" stroke-width="1"/>
<line x1="366.8" y1="44.75" x2="363.4" y2="44.75" stroke="#626262" stroke-width="1"/>
<line x1="365.9" y1="30.81" x2="364.3" y2="30.81" stroke="#626262" stroke-width="1"/>
<line x1="366.8" y1="16.87" x2="363.4" y2="16.87" stroke="#626262" stroke-width="1"/>
<rect x="219.6" y="133.1" width="146.3" height="121.3" fill="none" stroke="#626262" stroke-width="1.4"/>
<line x1="232.9" y1="254.4" x2="232.9" y2="252.6" stroke="#626262" stroke-width="1"/>
<line x1="232.9" y1="133.1" x2="232.9" y2="134.9" stroke="#626262" stroke-width="1"/>
<line x1="246.2" y1="254.4" x2="246.2" y2="252.6" stroke="#626262" stroke-width="1"/>
<line x1="246.2" y1="133.1" x2="246.2" y2="134.9" stroke="#626262" stroke-width="1"/>
<line x1="259.5" y1="254.4" x2="259.5" y2="251.6" stroke="#626262" stroke-width="1"/>
<line x1="259.5" y1="133.1" x2="259.5" y2="135.9" stroke="#626262" stroke-width="1"/>
<line x1="272.8" y1="254.4" x2="272.8" y2="252.6" stroke="#626262" stroke-width="1"/>
<line x1="272.8" y1="133.1" x2="272.8" y2="134.9" stroke="#626262" stroke-width="1"/>
<line x1="286.1" y1="254.4" x2="286.1" y2="252.6" stroke="#626262" stroke-width="1"/>
<line x1="286.1" y1="133.1" x2="286.1" y2="134.9" stroke="#626262" stroke-width="1"/>
<line x1="299.4" y1="254.4" x2="299.4" y2="252.6" stroke="#626262" stroke-width="1"/>
<line x1="299.4" y1="133.1" x2="299.4" y2="134.9" stroke="#626262" stroke-width="1"/>
<line x1="312.7" y1="254.4" x2="312.7" y2="251.6" stroke="#626262" stroke-width="1"/>
<line x1="312.7" y1="133.1" x2="312.7" y2="135.9" stroke="#626262" stroke-width="1"/>
<line x1="326" y1="254.4" x2="326" y2="252.6" stroke="#626262" stroke-width="1"/>
<line x1="326" y1="133.1" x2="326" y2="134.9" stroke="#626262" stroke-width="1"/>
<line x1="339.3" y1="254.4" x2="339.3" y2="252.6" stroke="#626262" stroke-width="1"/>
<line x1="339.3" y1="133.1" x2="339.3" y2="134.9" stroke="#626262" stroke-width="1"/>
<line x1="352.6" y1="254.4" x2="352.6" y2="252.6" stroke="#626262" stroke-width="1"/>
<line x1="352.6" y1="133.1" x2="352.6" y2="134.9" stroke="#626262" stroke-width="1"/>
<line x1="365.9" y1="254.4" x2="365.9" y2="251.6" stroke="#626262" stroke-width="1"/>
<line x1="365.9" y1="133.1" x2="365.9" y2="135.9" stroke="#626262" stroke-width="1"/>
<line x1="219.6" y1="213.95" x2="221.4" y2="213.95" stroke="#626262" stroke-width="1"/>
<line x1="219.6" y1="173.5" x2="222.4" y2="173.5" stroke="#626262" stroke-width="1"/>
<line x1="365.9" y1="213.95" x2="364.1" y2="213.95" stroke="#626262" stroke-width="1"/>
<line x1="365.9" y1="173.5" x2="363.1" y2="173.5" stroke="#626262" stroke-width="1"/>
<text x="36.9" y="131.8" font-family='"Liberation Serif", serif' font-size="10" text-anchor="end" >0</text>
<text x="36.9" y="48.15" font-family='"Liberation Serif", serif' font-size="10" text-anchor="end" >1</text>
<text x="36.9" y="257.8" font-family='"Liberation Serif", serif' font-size="10" text-anchor="end" >0</text>
<text x="36.9" y="173.9" font-family='"Liberation Serif", serif' font-size="10" text-anchor="end" >1</text>
<text x="217.1" y="131.8" font-family='"Liberation Serif", serif' font-size="10" text-anchor="end" >0</text>
<text x="217.1" y="48.15" font-family='"Liberation Serif", serif' font-size="10" text-anchor="end" >1</text>
<text x="217.1" y="257.8" font-family='"Liberation Serif", serif' font-size="10" text-anchor="end" >0</text>
<text x="217.1" y="176.9" font-family='"Liberation Serif", serif' font-size="10" text-anchor="end" >1</text>
<text x="79.44" y="264.3" font-family='"Liberation Serif", serif' font-size="10" text-anchor="middle" >40</text>
<text x="132.82" y="264.3" font-family='"Liberation Serif", serif' font-size="10" text-anchor="middle" >60</text>
<text x="186.2" y="264.3" font-family='"Liberation Serif", serif' font-size="10" text-anchor="middle" >80</text>
<text x="259.5" y="264.3" font-family='"Liberation Serif", serif' font-size="10" text-anchor="middle" >40</text>
<text x="312.7" y="264.3" font-family='"Liberation Serif", serif' font-size="10" text-anchor="middle" >60</text>
<text x="365.9" y="264.3" font-family='"Liberation Serif", serif' font-size="10" text-anchor="middle" >80</text>
<text x="188.6" y="130.7" font-family='"Liberation Serif", serif' font-size="8.9" text-anchor="start" >0</text>
<text x="188.6" y="102.82" font-family='"Liberation Serif", serif' font-size="8.9" text-anchor="start" >1</text>
<text x="188.6" y="74.93" font-family='"Liberation Serif", serif' font-size="8.9" text-anchor="start" >2</text>
<text x="188.6" y="47.05" font-family='"Liberation Serif", serif' font-size="8.9" text-anchor="start" >3</text>
<text x="188.6" y="19.17" font-family='"Liberation Serif", serif' font-size="8.9" text-anchor="start" >4</text>
<text x="188.6" y="256.7" font-family='"Liberation Serif", serif' font-size="8.9" text-anchor="start" >0</text>
<text x="188.6" y="228.73" font-family='"Liberation Serif", serif' font-size="8.9" text-anchor="start" >1</text>
<text x="188.6" y="200.77" font-family='"Liberation Serif", serif' font-size="8.9" text-anchor="start" >2</text>
<text x="188.6" y="172.8" font-family='"Liberation Serif", serif' font-size="8.9" text-anchor="start" >3</text>
<text x="188.6" y="144.83" font-family='"Liberation Serif", serif' font-size="8.9" text-anchor="start" >4</text>
<text x="368.3" y="130.7" font-family='"Liberation Serif", serif' font-size="8.9" text-anchor="start" >0</text>
<text x="368.3" y="102.82" font-family='"Liberation Serif", serif' font-size="8.9" text-anchor="start" >1</text>
<text x="368.3" y="74.93" font-family='"Liberation Serif", serif' font-size="8.9" text-anchor="start" >2</text>
<text x="368.3" y="47.05" font-family='"Liberation Serif", serif' font-size="8.9" text-anchor="start" >3</text>
<text x="368.3" y="19.17" font-family='"Liberation Serif", serif' font-size="8.9" text-anchor="start" >4</text>
<text x="195.4" y="12.7" font-family='"Liberation Serif", serif' font-size="11.6" text-anchor="start" >H</text>
<text x="196.4" y="139.8" font-family='"Liberation Serif", serif' font-size="11.6" text-anchor="start" >H</text>
<text x="375.1" y="12.5" font-family='"Liberation Serif", serif' font-size="11.6" text-anchor="start" >H</text>
<text x="165.8" y="21.3" font-family='"Liberation Serif", serif' font-size="13.2" text-anchor="start" >(a)</text>
<text x="165.8" y="148" font-family='"Liberation Serif", serif' font-size="13.2" text-anchor="start" >(b)</text>
<text x="345.8" y="21.3" font-family='"Liberation Serif", serif' font-size="13.2" text-anchor="start" >(c)</text>
<text x="343.6" y="151.2" font-family='"Liberation Serif", serif' font-size="14.5" text-anchor="start" >(d)</text>
<text x="52.6" y="19.6" font-family='"Liberation Serif", serif' font-size="10.5" text-anchor="start" >(H(&#916;E), 1/2, 0)</text>
<text x="57.9" y="146.6" font-family='"Liberation Serif", serif' font-size="10.5" text-anchor="start" >(H(&#916;E), 1/2, 1/2)</text>
<text x="235.8" y="19.6" font-family='"Liberation Serif", serif' font-size="10.5" text-anchor="start" >(H(&#916;E), 1, 0)</text>
<text x="104.8" y="105" font-family='"Liberation Serif", serif' font-size="10.5" text-anchor="start" >CePd<tspan font-size="7.5" dy="3.9">3</tspan><tspan dy="-3.9"> T = 7 K</tspan></text>
<text x="91.9" y="121.2" font-family='"Liberation Serif", serif' font-size="10.5" text-anchor="start" >MAPS E<tspan font-size="7.5" dy="3.9">i</tspan><tspan dy="-3.9"> = 120 meV</tspan></text>
<path d="M180.2,281.2 L184.1,271.4 L188.2,281.2 Z M181.24,280.1 L183.72,273.86 L186.33,280.1 Z" fill="#000" fill-rule="evenodd"/>
<text x="187.7" y="281.3" font-family='"Liberation Serif", serif' font-size="14" text-anchor="start" textLength="49.5" lengthAdjust="spacing">E (meV)</text>
<g transform="translate(16.0,201.0) rotate(-90)">
<text x="-0.3" y="1.1" font-family='"Liberation Serif", serif' font-size="15.5" >S</text>
<text x="9.7" y="6.3" font-family='"Liberation Serif", serif' font-size="8.2" >magn</text>
<text x="31" y="0" font-family='"Liberation Serif", serif' font-size="14" >/</text>
<text x="39.2" y="0" font-family='"Liberation Serif", serif' font-size="14" >f</text>
<text x="46" y="-8.2" font-family='"Liberation Serif", serif' font-size="8.2" >2</text>
<text x="51.6" y="0.8" font-family='"Liberation Serif", serif' font-size="14" textLength="99.6" lengthAdjust="spacing">(Q) (mb/sr-meV)</text>
</g>
</svg></body></html>
